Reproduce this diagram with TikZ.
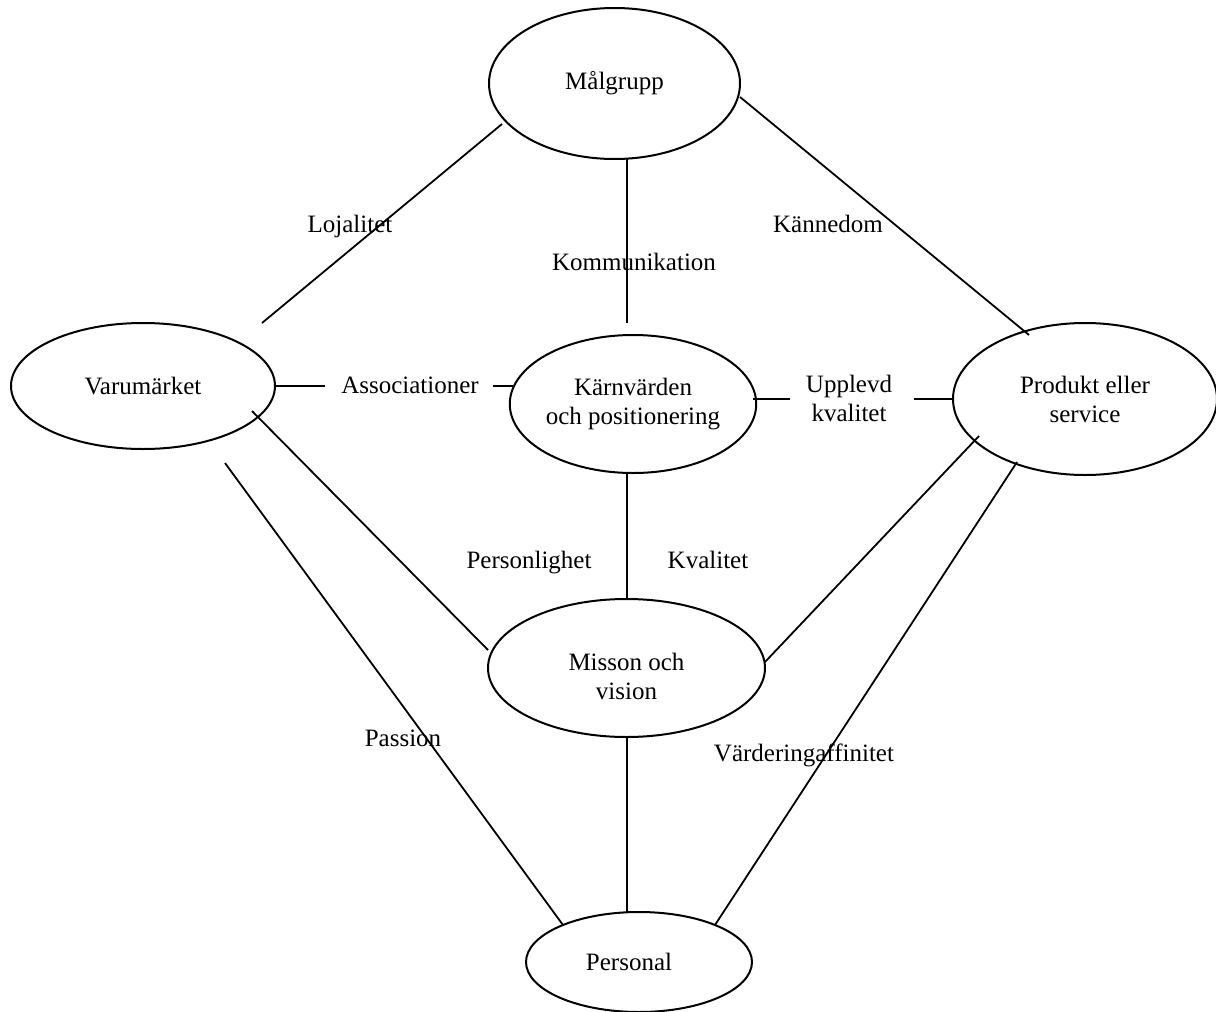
\documentclass[tikz,border=0pt]{standalone}
\usepackage{fontspec}
\setmainfont{Liberation Serif}
\usetikzlibrary{shapes.geometric}

\begin{document}
\begin{tikzpicture}[x=0.5pt,y=-0.5pt,
  every node/.style={font=\fontsize{12.5}{14.5}\selectfont, inner sep=0pt},
  oval/.style={ellipse, draw, line width=1pt, align=center},
  link/.style={line width=0.9pt},
  lbl/.style={anchor=base, align=center}]
\useasboundingbox (0,0) rectangle (1216,1012);

% ellipses (sizes in pt: half of the drawing units)
\node[oval, minimum width=125.5pt, minimum height=75.5pt] (malgrupp) at (614.5,83.5) {Målgrupp};
\node[oval, minimum width=132pt, minimum height=63pt] (varumarket) at (143,386) {Varumärket};
\node[oval, minimum width=120pt, minimum height=69pt] (karn) at (633,404) {Kärnvärden\\och positionering};
\node[oval, minimum width=132pt, minimum height=76pt] (produkt) at (1085,399) {Produkt eller\\service};
\node[oval, minimum width=138.5pt, minimum height=69pt] (misson) at (626.5,668) {\rule{0pt}{17pt}Misson och\\vision};
\node[oval, minimum width=113pt, minimum height=50pt] (personal) at (639,962) {\hspace*{-10pt}Personal};

% line end points
\coordinate (mgA) at (502,124);   \coordinate (vmA) at (262,323);
\coordinate (mgB) at (740,97);    \coordinate (prA) at (1029,335);
\coordinate (mgC) at (627,159);   \coordinate (kvA) at (627,323);
\coordinate (vmB) at (275,386);   \coordinate (asA) at (325,386);
\coordinate (asB) at (493,386);   \coordinate (kvB) at (513,386);
\coordinate (kvC) at (753,399);   \coordinate (ukA) at (790,399);
\coordinate (ukB) at (914,399);   \coordinate (prB) at (953,399);
\coordinate (kvD) at (627,473);   \coordinate (msA) at (627,600);
\coordinate (vmC) at (252,411);   \coordinate (msB) at (488,650);
\coordinate (prC) at (979,436);   \coordinate (msC) at (765,662);
\coordinate (vmD) at (225,463);   \coordinate (psA) at (563,925);
\coordinate (prD) at (1017,462);  \coordinate (psB) at (715,925);
\coordinate (msD) at (627,737);   \coordinate (psC) at (627,913);

% connectors
\draw[link] (mgA) -- (vmA);
\draw[link] (mgB) -- (prA);
\draw[link] (mgC) -- (kvA);
\draw[link] (vmB) -- (asA);
\draw[link] (asB) -- (kvB);
\draw[link] (kvC) -- (ukA);
\draw[link] (ukB) -- (prB);
\draw[link] (kvD) -- (msA);
\draw[link] (vmC) -- (msB);
\draw[link] (prC) -- (msC);
\draw[link] (vmD) -- (psA);
\draw[link] (prD) -- (psB);
\draw[link] (msD) -- (psC);

% connector labels
\node[lbl] (lojalitet) at (350,232) {Lojalitet};
\node[lbl] (kannedom) at (828,232) {Kännedom};
\node[lbl] (kommunikation) at (634,270) {Kommunikation};
\node[lbl] (associationer) at (410,393) {Associationer};
\node[lbl] (upplevd) at (849,421) {Upplevd\\kvalitet};
\node[lbl] (personlighet) at (529,568) {Personlighet};
\node[lbl] (kvalitet) at (708,568) {Kvalitet};
\node[lbl] (passion) at (403,746) {Passion};
\node[lbl] (vardering) at (804,761) {Värderingaffinitet};
\end{tikzpicture}
\end{document}
